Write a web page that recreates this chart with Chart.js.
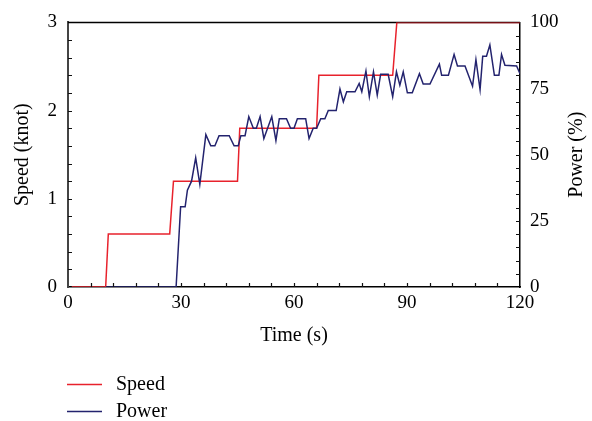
<!DOCTYPE html>
<html>
<head>
<meta charset="utf-8">
<script src="https://cdn.jsdelivr.net/npm/chart.js@4/dist/chart.umd.min.js"></script>
<style>
  body { margin: 0; background: #fff; }
</style>
</head>
<body>
<canvas id="speedChart" width="592" height="421"></canvas>
<script>
// Speed set-points (knot), step changes over time (s)
const speedTimes  = [1, 10, 10.7, 27, 28, 45, 45.6, 66, 66.6, 86.2, 87.3, 120];
const speedValues = [0, 0, 0.6, 0.6, 1.2, 1.2, 1.8, 1.8, 2.4, 2.4, 3, 3];

// Measured power (%)
const powerTimes = [10, 28.7, 29.9, 31.1, 31.7, 32.8, 33.9, 35.0, 36.6, 37.9, 39.0, 40.1, 42.8, 44.1, 45.2, 45.9, 47.0,
  48.0, 49.2, 50.0, 51.0, 52.0, 54.1, 55.2, 56.1, 58.0, 59.1, 60.0, 60.9, 63.1, 64.0, 65.1, 66.0, 67.1, 68.2,
  69.1, 71.2, 72.2, 73.1, 74.0, 76.2, 77.3, 78.0, 79.1, 80.0, 81.1, 82.1, 83.0, 85.0, 86.2, 87.2, 88.1, 89.0,
  90.1, 91.4, 93.3, 94.3, 96.1, 98.6, 99.2, 101.0, 102.5, 103.4, 105.4, 107.4, 108.3, 109.4, 110.1, 111.1,
  112.0, 113.2, 114.4, 115.1, 116.0, 119.1, 120];
const powerValues = [0, 0, 30.3, 30.3, 36.6, 40, 48.8, 38.8, 57.6, 53.4, 53.4, 57.2, 57.2, 53.4, 53.4, 57.2, 57.2,
  64.4, 60, 60, 64.4, 56.1, 64.4, 55.3, 63.6, 63.6, 60, 60, 63.6, 63.6, 56.1, 60, 60, 63.6, 63.6,
  66.7, 66.7, 74.8, 70, 73.8, 73.8, 76.9, 73.8, 81.6, 71.9, 81.3, 72.5, 80.4, 80.4, 71.9, 81.3, 76.3, 81.3,
  73.4, 73.4, 80.6, 76.7, 76.7, 84.2, 80, 80, 87.9, 83.5, 83.5, 75.9, 85.9, 74.6, 87.2, 87.2,
  91.5, 80, 80, 87.9, 83.8, 83.5, 80.6];

const xTicks = [0, 30, 60, 90, 120];
const speedTicks = [0, 1, 2, 3];
const powerTicks = [0, 25, 50, 75, 100];

const SERIF = "'Liberation Serif', 'Times New Roman', serif";
const RED = '#e8222c';
const NAVY = '#23236e';

function toPoints(xs, ys) {
    return xs.map((x, i) => ({ x: x, y: ys[i] }));
}

// Top frame goes under the lines; inward ticks, right-hand title and legend on top
const frameAndLegend = {
    id: 'frameAndLegend',
    beforeDatasetsDraw(chart) {
        const ctx = chart.ctx;
        const area = chart.chartArea;
        ctx.save();
        ctx.strokeStyle = '#000';
        ctx.lineWidth = 1.5;
        ctx.beginPath();
        ctx.moveTo(area.left, area.top);
        ctx.lineTo(area.right, area.top);
        ctx.stroke();
        ctx.restore();
    },
    afterDraw(chart) {
        const ctx = chart.ctx;
        const area = chart.chartArea;
        const sx = chart.scales.x, sl = chart.scales.y, sr = chart.scales.y1;
        const len = 4;

        ctx.save();
        ctx.strokeStyle = '#111';
        ctx.lineWidth = 1.2;
        ctx.beginPath();
        for (let v = 6; v < 120; v += 6) {
            const px = Math.round(sx.getPixelForValue(v)) + 0.5;
            ctx.moveTo(px, area.bottom);
            ctx.lineTo(px, area.bottom - len);
        }
        for (let v = 0.2; v < 2.95; v += 0.2) {
            const py = Math.round(sl.getPixelForValue(v)) + 0.5;
            ctx.moveTo(area.left, py);
            ctx.lineTo(area.left + len, py);
        }
        for (let v = 5; v < 100; v += 5) {
            const py = Math.round(sr.getPixelForValue(v)) + 0.5;
            ctx.moveTo(area.right, py);
            ctx.lineTo(area.right - len, py);
        }
        ctx.stroke();

        // right axis title, reading upward
        ctx.fillStyle = '#000';
        ctx.font = '20px ' + SERIF;
        ctx.textAlign = 'center';
        ctx.textBaseline = 'middle';
        ctx.translate(577, (area.top + area.bottom) / 2);
        ctx.rotate(-Math.PI / 2);
        ctx.fillText('Power (%)', 0, 0);
        ctx.restore();

        // legend below the plot
        ctx.save();
        ctx.font = '20px ' + SERIF;
        ctx.textAlign = 'left';
        ctx.textBaseline = 'alphabetic';
        const rows = [384, 411];
        chart.data.datasets.forEach((ds, i) => {
            const y = rows[i] + 0.5;
            ctx.strokeStyle = ds.borderColor;
            ctx.lineWidth = 1.5;
            ctx.beginPath();
            ctx.moveTo(67, y);
            ctx.lineTo(102, y);
            ctx.stroke();
            ctx.fillStyle = '#000';
            ctx.fillText(ds.label, 116, rows[i] + 6);
        });
        ctx.restore();
    }
};

const noGrid = { display: false, drawTicks: false, tickLength: 0 };

new Chart(document.getElementById('speedChart'), {
    type: 'line',
    data: {
        datasets: [{
            label: 'Speed',
            data: toPoints(speedTimes, speedValues),
            borderColor: RED,
            borderWidth: 1.5,
            pointRadius: 0,
            yAxisID: 'y',
            order: 2
        }, {
            label: 'Power',
            data: toPoints(powerTimes, powerValues),
            borderColor: NAVY,
            borderWidth: 1.5,
            pointRadius: 0,
            yAxisID: 'y1',
            order: 1
        }]
    },
    options: {
        responsive: false,
        animation: false,
        layout: { padding: { top: 20, left: 0, right: 0, bottom: 73 } },
        plugins: { legend: { display: false }, tooltip: { enabled: false } },
        scales: {
            x: {
                type: 'linear',
                min: 0, max: 120,
                afterBuildTicks: (s) => { s.ticks = xTicks.map(v => ({ value: v })); },
                afterFit: (s) => { s.height = 61; },
                grid: noGrid,
                border: { display: true, color: '#000', width: 1.5 },
                ticks: { color: '#000', padding: 5, maxRotation: 0, font: { family: SERIF, size: 19 } },
                title: { display: true, text: 'Time (s)', color: '#000', padding: 0, font: { family: SERIF, size: 20 } }
            },
            y: {
                position: 'left',
                min: 0, max: 3,
                afterBuildTicks: (s) => { s.ticks = speedTicks.map(v => ({ value: v })); },
                afterFit: (s) => { s.width = 68; },
                grid: noGrid,
                border: { display: true, color: '#444', width: 2 },
                ticks: { color: '#000', padding: 11, font: { family: SERIF, size: 19 } },
                title: { display: true, text: 'Speed (knot)', color: '#000', padding: { top: 11 }, font: { family: SERIF, size: 20 } }
            },
            y1: {
                position: 'right',
                min: 0, max: 100,
                afterBuildTicks: (s) => { s.ticks = powerTicks.map(v => ({ value: v })); },
                afterFit: (s) => { s.width = 72; },
                grid: noGrid,
                border: { display: true, color: '#000', width: 1.5 },
                ticks: { color: '#000', padding: 10, font: { family: SERIF, size: 19 } }
            }
        }
    },
    plugins: [frameAndLegend]
});
</script>
</body>
</html>
